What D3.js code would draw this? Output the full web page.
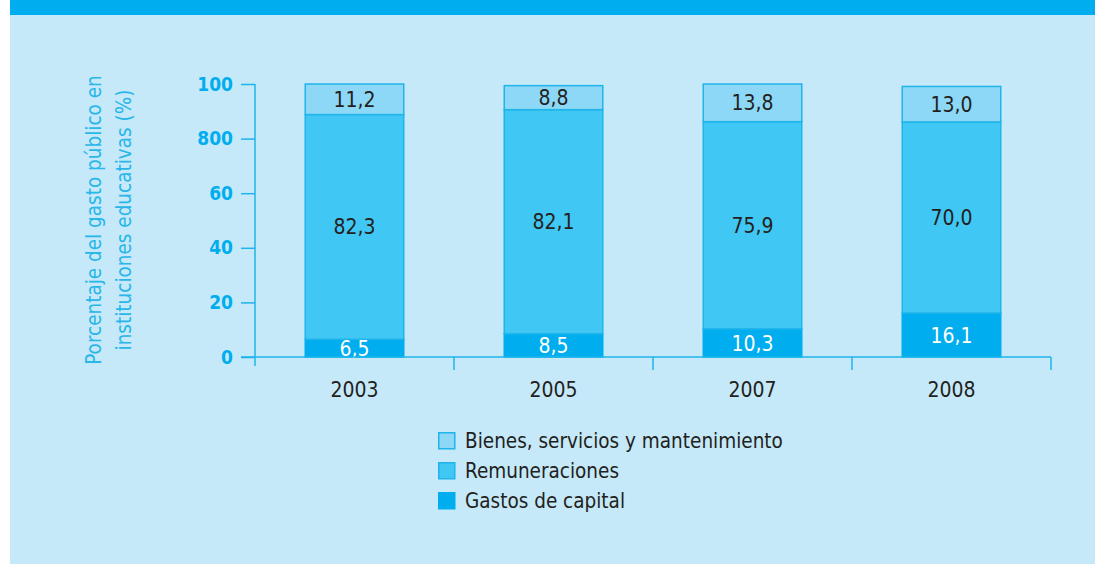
<!DOCTYPE html>
<html>
<head>
<meta charset="utf-8">
<script src="https://cdn.jsdelivr.net/npm/d3@7"></script>
<style>
  body { margin: 0; background: #fff; }
  svg { display: block; font-family: "DejaVu Sans Condensed", "Liberation Sans", sans-serif; }
</style>
</head>
<body>
<svg id="chart" width="1095" height="564"></svg>
<script>
// Data
const years = ["2003", "2005", "2007", "2008"];
const capital = [6.5, 8.5, 10.3, 16.1];          // Gastos de capital
const remuneraciones = [82.3, 82.1, 75.9, 70.0];  // Remuneraciones
const bienes = [11.2, 8.8, 13.8, 13.0];           // Bienes, servicios y mantenimiento
const yTicks = [0, 20, 40, 60, 80, 100];
const yTickLabels = ["0", "20", "40", "60", "800", "100"];
const seriesNames = ["Bienes, servicios y mantenimiento", "Remuneraciones", "Gastos de capital"];

const svg = d3.select("#chart");
const W = 1095, H = 564;

// Background panel and top band
svg.append("rect").attr("x", 10).attr("y", 0).attr("width", W - 10).attr("height", H).attr("fill", "#C5E9F9");
svg.append("rect").attr("x", 10).attr("y", 0).attr("width", W - 10).attr("height", 15).attr("fill", "#00AEEF");

const axisColor = "#1FB4EA";
const colors = { bienes: "#8DD8F6", rem: "#41C7F4", cap: "#00AEEF" };

// Scales
const x = d3.scaleBand().domain(years).range([255, 1051]).paddingInner(0).paddingOuter(0);
const y = d3.scaleLinear().domain([0, 100]).range([357, 84]);
const barW = x.bandwidth() * 0.495;

// Stacked data
const rows = years.map((yr, i) => ({ year: yr, cap: capital[i], rem: remuneraciones[i], bienes: bienes[i] }));
const stack = d3.stack().keys(["cap", "rem", "bienes"])(rows);

const g = svg.append("g");

stack.forEach(layer => {
  g.selectAll(".bar-" + layer.key)
    .data(layer)
    .join("rect")
      .attr("class", "bar-" + layer.key)
      .attr("x", d => x(d.data.year) + (x.bandwidth() - barW) / 2)
      .attr("y", d => y(d[1]))
      .attr("width", barW)
      .attr("height", d => y(d[0]) - y(d[1]))
      .attr("fill", colors[layer.key])
      .attr("stroke", layer.key === "cap" ? colors.cap : axisColor)
      .attr("stroke-width", 1.5);

  g.selectAll(".lbl-" + layer.key)
    .data(layer)
    .join("text")
      .attr("class", "lbl-" + layer.key)
      .attr("x", d => x(d.data.year) + x.bandwidth() / 2)
      .attr("y", d => (y(d[0]) + y(d[1])) / 2)
      .attr("dy", "0.36em")
      .attr("text-anchor", "middle")
      .attr("font-size", 21)
      .attr("fill", layer.key === "cap" ? "#ffffff" : "#231F20")
      .text(d => d3.format(".1f")(d[1] - d[0]).replace(".", ","));
});

// Y axis
const yAxis = d3.axisLeft(y).tickValues(yTicks).tickSize(14).tickPadding(8)
  .tickFormat((d, i) => yTickLabels[i]);
const yAxisG = svg.append("g").attr("transform", "translate(255,0)").call(yAxis);
yAxisG.select(".domain").attr("d", "M0,84V366");
yAxisG.selectAll(".domain, .tick line").attr("stroke", axisColor).attr("stroke-width", 1.5);
yAxisG.selectAll(".tick text")
  .attr("fill", "#00AEEF").attr("font-size", 19).attr("font-weight", "bold")
  .attr("font-family", "'DejaVu Sans Condensed', 'Liberation Sans', sans-serif");

// X axis with ticks at band boundaries
svg.append("line").attr("x1", 241).attr("x2", 1051).attr("y1", y(0)).attr("y2", y(0))
  .attr("stroke", axisColor).attr("stroke-width", 1.5);
const bounds = years.map(d => x(d)).concat([x(years[years.length - 1]) + x.bandwidth()]);
svg.selectAll(".xtick").data(bounds.slice(1)).join("line")
  .attr("class", "xtick")
  .attr("x1", d => d).attr("x2", d => d)
  .attr("y1", y(0)).attr("y2", y(0) + 13)
  .attr("stroke", axisColor).attr("stroke-width", 1.5);
svg.selectAll(".xlabel").data(years).join("text")
  .attr("class", "xlabel")
  .attr("x", d => x(d) + x.bandwidth() / 2)
  .attr("y", 397)
  .attr("text-anchor", "middle")
  .attr("font-size", 21)
  .attr("fill", "#231F20")
  .text(d => d);

// Y axis title
const title = svg.append("text")
  .attr("transform", "translate(101,220) rotate(-90)")
  .attr("text-anchor", "middle")
  .attr("font-size", 20.5)
  .attr("fill", "#29B6E9");
title.append("tspan").attr("x", 0).attr("dy", 0).text("Porcentaje del gasto público en");
title.append("tspan").attr("x", 0).attr("dy", 30).text("instituciones educativas (%)");

// Legend
const legendColors = [colors.bienes, colors.rem, colors.cap];
const legend = svg.selectAll(".legend").data(seriesNames).join("g")
  .attr("class", "legend")
  .attr("transform", (d, i) => `translate(438,${432 + i * 30})`);
legend.append("rect")
  .attr("x", 0.75).attr("y", 0.75).attr("width", 16).attr("height", 16)
  .attr("fill", (d, i) => legendColors[i])
  .attr("stroke", (d, i) => i === 2 ? colors.cap : axisColor)
  .attr("stroke-width", 1.5);
legend.append("text")
  .attr("x", 27).attr("y", 9).attr("dy", "0.36em")
  .attr("font-size", 20.5)
  .attr("fill", "#231F20")
  .text(d => d);
</script>
</body>
</html>
